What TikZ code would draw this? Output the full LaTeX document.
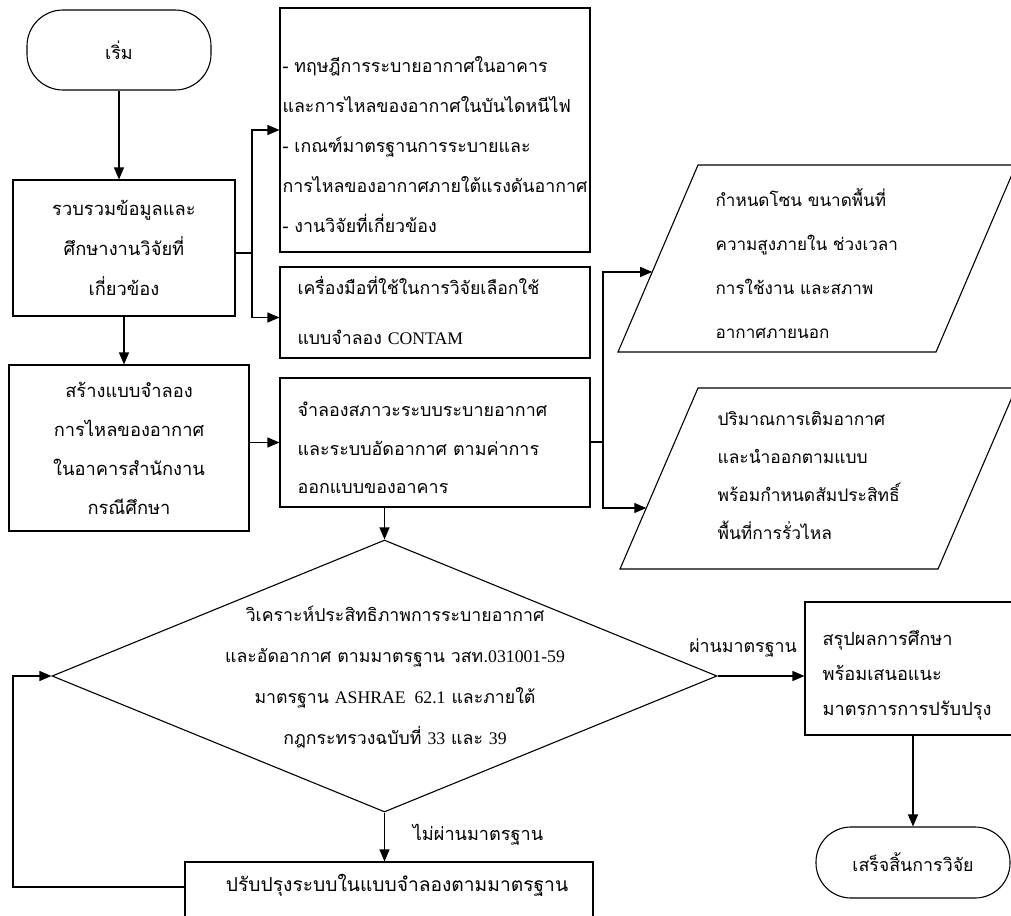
\documentclass[tikz,border=0pt]{standalone}
\usepackage{fontspec}
\setmainfont{Loma}[Script=Thai]
\newfontfamily\lat{Liberation Serif}
\usetikzlibrary{arrows.meta,shapes.geometric,calc}
\newcommand\thfs[2]{\fontsize{#1}{#2}\selectfont}
\begin{document}
\begin{tikzpicture}[x=1pt,y=-1pt,
  line width=1.1pt,
  box/.style={draw, rectangle, inner sep=0pt},
  term/.style={draw, rectangle, rounded corners=36pt, inner sep=0pt},
  txt/.style={inner sep=0pt},
  arr/.style={-{Triangle[length=12pt,width=10pt]}},
  ]
\fill[white] (0,0) rectangle (1011,915);
\useasboundingbox (0,0) rectangle (1011,915);
\clip (0,0) rectangle (1011,915);

% start / end
\node[term, minimum width=184, minimum height=80, font=\thfs{18}{40}] (start) at (119,50) {เริ่ม};
\node[term, minimum width=194, minimum height=71, rounded corners=35pt, font=\thfs{17.8}{40}] (endn) at (913,862.5) {เสร็จสิ้นการวิจัย};

% left column
\node[box, minimum width=222, minimum height=136, align=center, font=\thfs{18.3}{40}] (b1) at (124,248)
  {รวบรวมข้อมูลและ\\ศึกษางานวิจัยที่\\เกี่ยวข้อง};
\node[box, minimum width=240, minimum height=166, align=center, font=\thfs{18.3}{39}] (b2) at (129,448)
  {สร้างแบบจำลอง\\การไหลของอากาศ\\ในอาคารสำนักงาน\\กรณีศึกษา};

% middle column
\node[box, minimum width=310, minimum height=244] (tb) at (435,130) {};
\node[txt, align=left, font=\thfs{17.8}{40}, anchor=west] (tbt) at (282,145)
  {- ทฤษฎีการระบายอากาศในอาคาร\\และการไหลของอากาศในบันไดหนีไฟ\\- เกณฑ์มาตรฐานการระบายและ\\การไหลของอากาศภายใต้แรงดันอากาศ\\- งานวิจัยที่เกี่ยวข้อง};
\node[box, minimum width=310, minimum height=91] (ct) at (435,312.5) {};
\node[txt, align=left, font=\thfs{17.7}{50}, anchor=west] (ctt) at (297,310)
  {เครื่องมือที่ใช้ในการวิจัยเลือกใช้\\แบบจำลอง {\lat CONTAM}};
\node[box, minimum width=310, minimum height=129] (b3) at (435,442.5) {};
\node[txt, align=left, font=\thfs{17.9}{38.5}, anchor=west] (b3t) at (297,448)
  {จำลองสภาวะระบบระบายอากาศ\\และระบบอัดอากาศ ตามค่าการ\\ออกแบบของอาคาร};

% parallelograms
\coordinate (p1bl) at (618,352); \coordinate (p1tl) at (698,165);
\coordinate (p1tr) at (1016,165); \coordinate (p1br) at (936,352);
\draw (p1bl) -- (p1tl) -- (p1tr) -- (p1br) -- cycle;
\coordinate (p1in) at ($(p1bl)!0.428!(p1tl)$);
\node[txt, align=left, font=\thfs{17.1}{44}, anchor=west] (p1t) at (715,263.5)
  {กำหนดโซน ขนาดพื้นที่\\ความสูงภายใน ช่วงเวลา\\การใช้งาน และสภาพ\\อากาศภายนอก};
\coordinate (p2bl) at (620,569); \coordinate (p2tl) at (698,388);
\coordinate (p2tr) at (1016,388); \coordinate (p2br) at (938,569);
\draw (p2bl) -- (p2tl) -- (p2tr) -- (p2br) -- cycle;
\coordinate (p2in) at ($(p2bl)!0.337!(p2tl)$);
\node[txt, align=left, font=\thfs{17.4}{38}, anchor=west] (p2t) at (717,476)
  {ปริมาณการเติมอากาศ\\และนำออกตามแบบ\\พร้อมกำหนดสัมประสิทธิ์\\พื้นที่การรั่วไหล};

% decision
\node[draw, diamond, minimum width=665, minimum height=272, inner sep=0pt] (dia) at (384.5,676) {};
\node[txt, align=center, font=\thfs{17.7}{41}] (diat) at (395,677)
  {วิเคราะห์ประสิทธิภาพการระบายอากาศ\\และอัดอากาศ ตามมาตรฐาน วสท.{\lat 031001-59}\\มาตรฐาน {\lat ASHRAE~~62.1} และภายใต้\\กฎกระทรวงฉบับที่ {\lat 33} และ {\lat 39}};

% result and fix boxes
\node[box, minimum width=211, minimum height=133] (res) at (910.5,668.5) {};
\node[txt, align=left, font=\thfs{18.2}{35}, anchor=west] (rest) at (822,675)
  {สรุปผลการศึกษา\\พร้อมเสนอแนะ\\มาตรการการปรับปรุง};
\node[box, minimum width=408, minimum height=80] (bot) at (389,902) {};
\node[txt, font=\thfs{19.2}{40}] (bott) at (397,885) {ปรับปรุงระบบในแบบจำลองตามมาตรฐาน};

% labels
\node[txt, font=\thfs{17.8}{40}] (lpass) at (743,648) {ผ่านมาตรฐาน};
\node[txt, font=\thfs{18.1}{40}] (lfail) at (478,835) {ไม่ผ่านมาตรฐาน};

% connectors
\draw[arr] (start.south) -- (start.south |- b1.north);
\draw[arr] (b1.south) -- (b1.south |- b2.north);
\coordinate (j1) at (252,253);
\draw (b1.east |- j1) -- (j1);
\draw[arr] (j1) |- (tb.west);
\draw[arr] (j1) |- ($(ct.west)+(0,5)$);
\draw[arr] (b2.east |- b3.west) -- (b3.west);
\coordinate (j2) at (603,442);
\draw (b3.east |- j2) -- (j2);
\draw[arr] (j2) |- (p1in);
\draw[arr] (j2) |- (p2in);
\draw[arr] (dia.north |- b3.south) -- (dia.north);
\draw[arr] (dia.east) -- (dia.east -| res.west);
\draw[arr] (endn.north |- res.south) -- (endn.north);
\draw[arr] (dia.south) -- (dia.south |- bot.north);
\coordinate (lb) at (13,887);
\draw[arr] (bot.west |- lb) -- (lb) |- (dia.west);
\end{tikzpicture}
\end{document}
